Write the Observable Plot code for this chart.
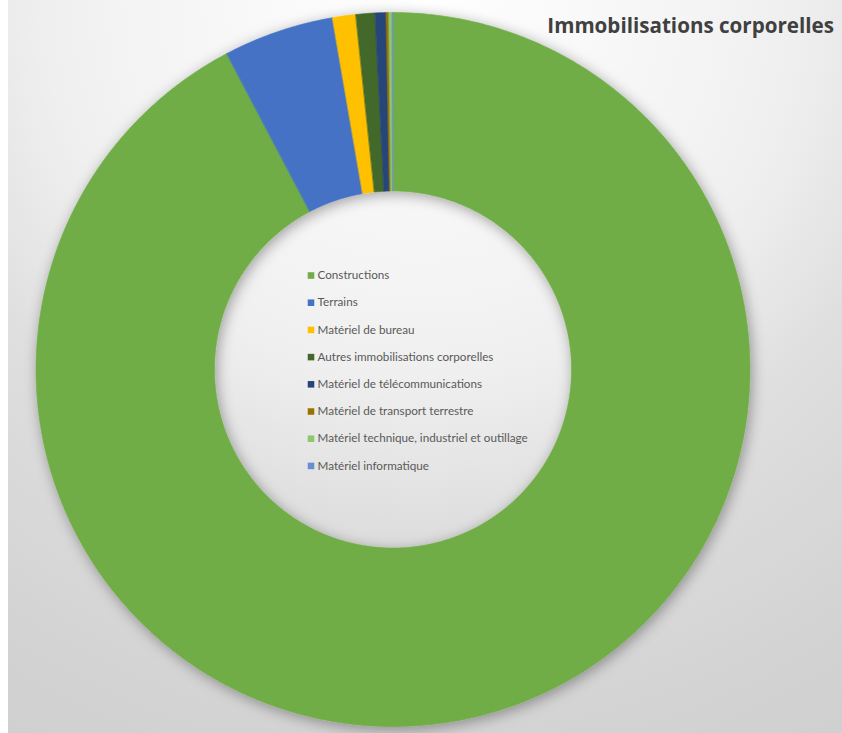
<!DOCTYPE html>
<html><head><meta charset="utf-8">
<script src="https://cdn.jsdelivr.net/npm/d3@7"></script>
<script src="https://cdn.jsdelivr.net/npm/@observablehq/plot@0.6"></script>
<style>
html,body{margin:0;padding:0;background:#fff;}
#chart{position:relative;width:842px;height:733px;overflow:hidden;background:#fff;}
#panel{position:absolute;left:8px;top:0;width:834px;height:733px;
  background:radial-gradient(circle 860px at 413px 0px,#ffffff 0%,#f5f5f5 30%,#efefef 44%,#dedede 62%,#d4d4d4 84%,#cfcfcf 100%);}
#chart svg{position:absolute;left:0;top:0;}
</style></head><body><div id="chart"><div id="panel"></div></div>
<script>
const categories = ["Constructions","Terrains","Matériel de bureau","Autres immobilisations corporelles","Matériel de télécommunications","Matériel de transport terrestre","Matériel technique, industriel et outillage","Matériel informatique"];
const values = [92.3, 5.0, 1.05, 0.86, 0.5, 0.12, 0.15, 0.03];
const colors = ["#70AD47","#4472C4","#FFC000","#43682B","#264478","#997300","#8FC76B","#698ED0"];
const title = "Immobilisations corporelles";

const total = d3.sum(values);
const innerRatio = 0.5;
let acc = 0;
const slices = categories.map((name, i) => {
  const a0 = acc / total * 2 * Math.PI; acc += values[i]; const a1 = acc / total * 2 * Math.PI;
  const n = Math.max(2, Math.ceil((a1 - a0) / (Math.PI / 360)));
  const ring = [];
  for (let k = 0; k <= n; k++) { const a = a0 + (a1 - a0) * k / n; ring.push([Math.sin(a), -Math.cos(a)]); }
  for (let k = n; k >= 0; k--) { const a = a0 + (a1 - a0) * k / n; ring.push([innerRatio * Math.sin(a), -innerRatio * Math.cos(a)]); }
  ring.push(ring[0]);
  return {type: "Feature", properties: {name}, geometry: {type: "Polygon", coordinates: [ring]}};
});

const legendRows = categories.map((name, i) => ({name, i}));
const legX = -0.2297, legTextX = -0.2115, legY0 = -0.2633, legStep = 0.0762;

const svg = Plot.plot({
  width: 842, height: 733,
  marginLeft: 35.5, marginRight: 92.5, marginTop: 12, marginBottom: 7,
  projection: {type: "identity", domain: {type: "MultiPoint", coordinates: [[-1, -1], [1, 1]]}},
  color: {domain: categories, range: colors},
  style: {background: "none", overflow: "visible"},
  marks: [
    Plot.geo(slices, {fill: d => d.properties.name, stroke: d => d.properties.name, strokeWidth: 0.6}),
    Plot.dot(legendRows, {x: () => legX, y: d => legY0 + d.i * legStep, fill: "name", symbol: "square", r: 3.7, stroke: null}),
    Plot.text(legendRows, {x: () => legTextX, y: d => legY0 + d.i * legStep, text: "name", textAnchor: "start",
      fontSize: 11.7, fontFamily: "Lato", fill: "#595959"}),
    Plot.text([title], {text: d => d, frameAnchor: "top-right", textAnchor: "end", lineAnchor: "middle",
      dx: 84, dy: 14, fontSize: 20.6, fontWeight: "bold", fontFamily: "Open Sans", fill: "#404040"})
  ]
});

// soft shadow under the ring
const ns = "http://www.w3.org/2000/svg";
const defs = document.createElementNS(ns, "defs");
defs.innerHTML = '<filter id="ringShadow" x="-20%" y="-20%" width="140%" height="140%">' +
  '<feDropShadow dx="2" dy="3" stdDeviation="7" flood-color="#000" flood-opacity="0.35"/></filter>';
svg.insertBefore(defs, svg.firstChild);
const geoG = svg.querySelector('g[aria-label="geo"]');
if (geoG) geoG.setAttribute("filter", "url(#ringShadow)");

document.getElementById("chart").appendChild(svg);
</script></body></html>
